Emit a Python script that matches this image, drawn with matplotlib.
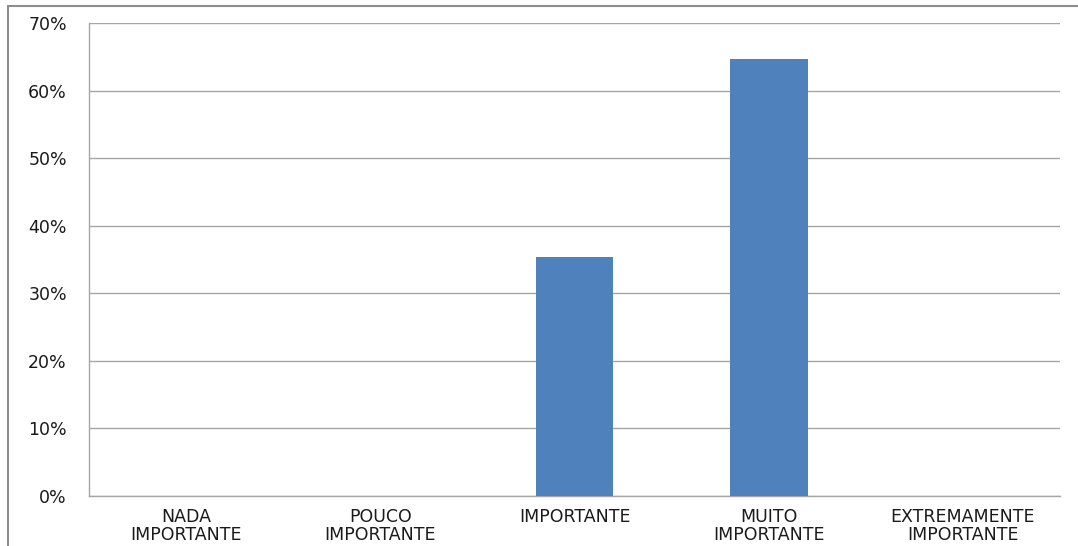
import matplotlib
matplotlib.use('Agg')
from matplotlib import pyplot as plt
from matplotlib.patches import Rectangle
from matplotlib.ticker import PercentFormatter

# data
categories = ['NADA\nIMPORTANTE', 'POUCO\nIMPORTANTE', 'IMPORTANTE',
              'MUITO\nIMPORTANTE', 'EXTREMAMENTE\nIMPORTANTE']
values = [0.0, 0.0, 35.3, 64.7, 0.0]
yticks = [0, 10, 20, 30, 40, 50, 60, 70]

plt.rcParams['font.family'] = ['DejaVu Sans']

fig = plt.figure(figsize=(10.78, 5.46), dpi=100)
ax = fig.add_axes([0.0826, 0.0916, 0.9007, 0.8664])

x = list(range(len(categories)))
ax.bar(x, values, width=0.4, color='#4F81BD', zorder=3)

ax.set_xlim(-0.5, len(categories) - 0.5)
ax.set_ylim(0, 70)
ax.set_yticks(yticks)
ax.yaxis.set_major_formatter(PercentFormatter(decimals=0))
ax.set_xticks(x)
ax.set_xticklabels(categories, fontsize=12.5, color='#1a1a1a', linespacing=1.0)

ax.tick_params(axis='y', length=0, pad=16, labelsize=12.5, labelcolor='#1a1a1a')
ax.tick_params(axis='x', length=0, pad=9)

ax.grid(True, axis='y', color='#A6A6A6', linewidth=1.0, zorder=0)
for s in ['top', 'right']:
    ax.spines[s].set_visible(False)
for s in ['left', 'bottom']:
    ax.spines[s].set_color('#A6A6A6')
    ax.spines[s].set_linewidth(1.0)

# outer chart border (cut off at right and bottom)
fig.patches.append(Rectangle((8 / 1078, -0.05), 1.1, 0.05 + (546 - 6) / 546,
                             transform=fig.transFigure, fill=False,
                             edgecolor='#8C8C8C', linewidth=1.5))

plt.savefig('out.png', dpi=100)
plt.close()
